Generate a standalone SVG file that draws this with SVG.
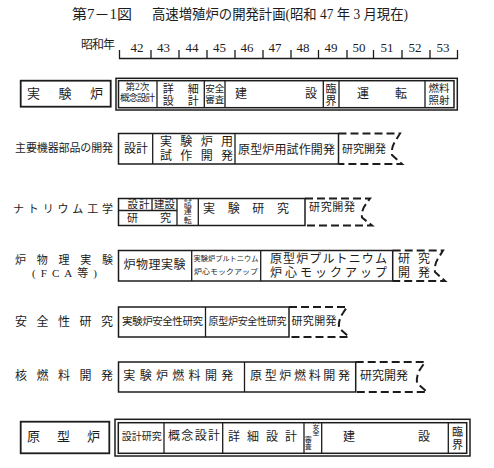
<svg xmlns="http://www.w3.org/2000/svg" width="494" height="468" viewBox="0 0 494 468">
<style>
.b{fill:none;stroke:#1c1c1c;stroke-width:1.5}
.bb{fill:none;stroke:#1c1c1c;stroke-width:1.8}
.l{fill:none;stroke:#1c1c1c;stroke-width:1.3}
.d{fill:none;stroke:#1c1c1c;stroke-width:2;stroke-dasharray:8 4}
text{font-family:"Liberation Serif","Noto Sans CJK JP",serif;fill:#1c1c1c;dominant-baseline:central;text-anchor:middle}
.s7{font-size:7px}.s8{font-size:8px}.s9{font-size:9.5px}.s10{font-size:10px}.s105{font-size:10.5px}.s11{font-size:11px}.s12{font-size:12px}.s13{font-size:13px}.s14{font-size:14px}
</style>
<rect width="494" height="468" fill="#fff"/>
<g id="title">
<text class="s14" x="102" y="14.5" textLength="60" lengthAdjust="spacingAndGlyphs">第7－1図</text>
<text class="s14" x="280" y="14.5" textLength="256" lengthAdjust="spacingAndGlyphs">高速増殖炉の開発計画(昭和 47 年 3 月現在)</text>
</g>
<g id="axis">
<text class="s12" x="98" y="44.5" textLength="34">昭和年</text>
<path class="l" d="M119.5,50V58.5H457.5V50M151,50V58.5M179,50V58.5M207,50V58.5M235,50V58.5M263,50V58.5M291,50V58.5M318.5,50V58.5M347,50V58.5M373.5,50V58.5M402,50V58.5M430,50V58.5"/>
<g class="s13">
<text x="137" y="47.5">42</text><text x="163.5" y="47.5">43</text><text x="192" y="47.5">44</text><text x="219.5" y="47.5">45</text><text x="247" y="47.5">46</text><text x="275" y="47.5">47</text><text x="303" y="47.5">48</text><text x="331" y="47.5">49</text><text x="359" y="47.5">50</text><text x="387" y="47.5">51</text><text x="415" y="47.5">52</text><text x="443" y="47.5">53</text>
</g>
</g>
<g id="row1-label">
<rect class="bb" x="20.7" y="80.7" width="90" height="26"/>
<text class="s13" x="65" y="93.5" textLength="76">実験炉</text>
</g>
<g id="row1-bar">
<rect class="b" x="116" y="78.3" width="341.3" height="31.7"/>
<rect class="b" x="118.5" y="80.7" width="335.5" height="27"/>
<path class="l" d="M157,80.7V107.7M204.3,80.7V107.7M225,80.7V107.7M323.3,80.7V107.7M339,80.7V107.7M425,80.7V107.7"/>
<text class="s9" x="137.5" y="87">第2次</text>
<text class="s9" x="137.5" y="97.5" textLength="35">概念設計</text>
<text class="s11" x="180.7" y="89" textLength="36">詳細</text>
<text class="s11" x="180.7" y="100.5" textLength="36">設計</text>
<text class="s9" x="214.7" y="88.5">安全</text>
<text class="s9" x="214.7" y="99.5">審査</text>
<text class="s12" x="276" y="94" textLength="82">建設</text>
<text class="s11" x="331" y="88.5">臨</text>
<text class="s11" x="331" y="100.5">界</text>
<text class="s12" x="382" y="94" textLength="50">運転</text>
<text class="s105" x="439" y="88.5">燃料</text>
<text class="s105" x="439" y="100">照射</text>
</g>
<g id="row2">
<text class="s11" x="64" y="148" textLength="98">主要機器部品の開発</text>
<rect class="b" x="118.5" y="133.5" width="220" height="30.5"/>
<path class="l" d="M152.7,133.5V164M235,133.5V164"/>
<text class="s12" x="136" y="149" textLength="24">設計</text>
<text class="s12" x="196.5" y="142" textLength="73">実験炉用</text>
<text class="s12" x="196.5" y="156" textLength="73">試作開発</text>
<text class="s12" x="286.5" y="149.5" textLength="97">原型炉用試作開発</text>
<path class="d" d="M338.5,133.5H400L396,140Q391,147 392,155L402,164H338.5"/>
<text class="s11" x="364" y="149" textLength="44">研究開発</text>
</g>
<g id="row3">
<text class="s11" x="63" y="209" textLength="100">ナトリウム工学</text>
<rect class="b" x="118.5" y="198.5" width="186.5" height="27"/>
<path class="l" d="M118.5,210.5H177M152,198.5V210.5M177,198.5V225.5M198.3,198.5V225.5"/>
<text class="s105" x="138.5" y="204" textLength="22">設計</text>
<text class="s105" x="164.5" y="204" textLength="21">建設</text>
<text class="s11" x="149" y="217.5" textLength="44">研究</text>
<text class="s8" x="187.7 187.7 187.7" y="203 211.5 220">試運転</text>
<text class="s12" x="246" y="209" textLength="86">実験研究</text>
<path class="d" d="M305,198.5H370L366,204Q361,210.5 362,217.5L372,225.5H305"/>
<text class="s11" x="332" y="207" textLength="46">研究開発</text>
</g>
<g id="row4">
<text class="s11" x="64" y="259.5" textLength="98">炉物理実験</text>
<text class="s11" x="64.5" y="272.5" textLength="65">(FCA等)</text>
<rect class="b" x="118.5" y="250.5" width="274.2" height="30.5"/>
<path class="l" d="M191.7,250.5V281M260.7,250.5V281"/>
<text class="s12" x="154.5" y="265" textLength="62">炉物理実験</text>
<text class="s7" x="226" y="258.5" textLength="65" lengthAdjust="spacingAndGlyphs">実験炉プルトニウム</text>
<text class="s7" x="226" y="271.5" textLength="64" lengthAdjust="spacingAndGlyphs">炉心モックアップ</text>
<text class="s12" x="328.5" y="259" textLength="117">原型炉プルトニウム</text>
<text class="s12" x="328.5" y="273" textLength="117">炉心モックアップ</text>
<path class="d" d="M392.7,250.5H443L439,257Q434,264 435,272L445,281H392.7"/>
<text class="s12" x="414" y="259" textLength="32">研究</text>
<text class="s12" x="414" y="273" textLength="32">開発</text>
</g>
<g id="row5">
<text class="s12" x="64" y="321.5" textLength="98">安全性研究</text>
<rect class="b" x="118.5" y="307" width="170.5" height="30"/>
<path class="l" d="M205.5,307V337"/>
<text class="s105" x="162.5" y="321.5" textLength="81">実験炉安全性研究</text>
<text class="s10" x="247.5" y="321.5" textLength="78">原型炉安全性研究</text>
<path class="d" d="M289,307H347L343,313Q338,320 339,328L349,337H289"/>
<text class="s11" x="314" y="321" textLength="45">研究開発</text>
</g>
<g id="row6">
<text class="s12" x="64" y="375.5" textLength="98">核燃料開発</text>
<rect class="b" x="118.5" y="362" width="237.2" height="30"/>
<path class="l" d="M244.5,362V392"/>
<text class="s12" x="178.3" y="376" textLength="110">実験炉燃料開発</text>
<text class="s12" x="300" y="376" textLength="100">原型炉燃料開発</text>
<path class="d" d="M355.7,362H425L421,368Q416,375 417,383L427,392H355.7"/>
<text class="s12" x="384" y="376" textLength="48">研究開発</text>
</g>
<g id="row7-label">
<rect class="bb" x="20.7" y="421.7" width="88.6" height="31.6"/>
<text class="s13" x="63.5" y="436.5" textLength="73">原型炉</text>
</g>
<g id="row7-bar">
<rect class="b" x="115" y="419.3" width="355" height="36.7"/>
<rect class="b" x="118.3" y="422.7" width="348.4" height="30.6"/>
<path class="l" d="M164,422.7V453.3M222.7,422.7V453.3M304,422.7V453.3M321.7,422.7V453.3M448.3,422.7V453.3"/>
<text class="s10" x="141.7" y="436" textLength="40">設計研究</text>
<text class="s12" x="194" y="436" textLength="52">概念設計</text>
<text class="s12" x="262.5" y="436.5" textLength="69">詳細設計</text>
<text class="s7" x="316 316 308.3 308.3" y="426 433.3 439.7 446.7">安全審査</text>
<text class="s12" x="386.5" y="437" textLength="87">建設</text>
<text class="s11" x="457.5" y="431.5">臨</text>
<text class="s11" x="457.5" y="444.7">界</text>
</g>
</svg>
